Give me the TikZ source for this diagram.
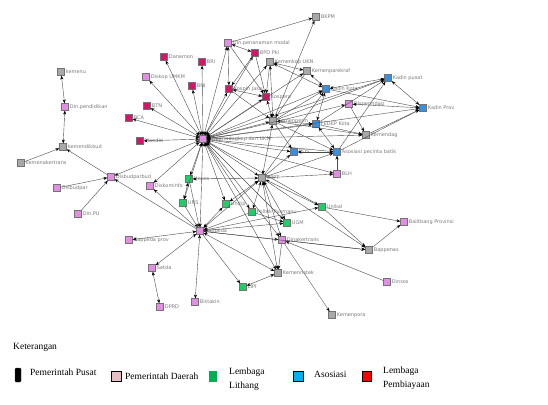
\documentclass[tikz,border=0pt]{standalone}
\usepackage{fontspec}
\setmainfont{Liberation Serif}
\newfontfamily\lblfont{DejaVu Sans}
\usetikzlibrary{arrows.meta}
\definecolor{cpd}{HTML}{E38EE3}
\definecolor{ccr}{HTML}{D6156A}
\definecolor{cgy}{HTML}{A8A8A8}
\definecolor{cbl}{HTML}{3A8FDD}
\definecolor{cgr}{HTML}{22CC66}
\definecolor{cedge}{HTML}{4A4A4A}
\definecolor{clbl}{HTML}{7A7A7A}
\tikzset{
  nd/.style={rectangle,minimum size=7pt,inner sep=0pt,draw=black!55,line width=0.4pt},
  pd/.style={nd,fill=cpd},
  cr/.style={nd,fill=ccr},
  gy/.style={nd,fill=cgy},
  bl/.style={nd,fill=cbl},
  gr/.style={nd,fill=cgr},
  lbl/.style={font=\lblfont\fontsize{5}{6}\selectfont,text=clbl,inner sep=0.5pt,label distance=0.5pt},
  tip/.style={Stealth[length=3.8pt,width=3pt,fill=black,color=black]},
  ea/.style={draw=cedge,line width=0.4pt,-{Stealth[length=3.8pt,width=3pt,color=black]}},
  eb/.style={draw=cedge,line width=0.4pt,{Stealth[length=3.8pt,width=3pt,color=black]}-{Stealth[length=3.8pt,width=3pt,color=black]}},
  legtxt/.style={font=\fontsize{9.5}{11}\selectfont,inner sep=0pt,anchor=west,align=left}
}
\begin{document}
\begin{tikzpicture}[x=1pt,y=-1pt]
\useasboundingbox (0,0) rectangle (548,404);
% ---- nodes ----
\node[gy,label={[lbl]right:BKPM}] (bkpm) at (316,17) {};
\node[pd,label={[lbl]right:Din.penanaman modal}] (dinpen) at (228,43) {};
\node[cr,label={[lbl]right:BPD Pkl}] (bpd) at (255,53) {};
\node[cr,label={[lbl]right:Danamon}] (danamon) at (164,57) {};
\node[cr,label={[lbl]right:BRI}] (bri) at (202,62) {};
\node[pd,label={[lbl]right:Diskop UMKM}] (diskop) at (146,77) {};
\node[gy,label={[lbl]right:Kemenkop UKN}] (kemenkop) at (270,62) {};
\node[gy,label={[lbl]right:Kemenparekraf}] (kemenpar) at (307,71) {};
\node[bl,label={[lbl]right:Kadin pusat}] (kadinpusat) at (388,78) {};
\node[bl,label={[lbl]right:Kadin Kota}] (kadinkota) at (326,89) {};
\node[cr,label={[lbl]right:BNI}] (bni) at (192,86) {};
\node[cr,label={[lbl]right:Kospin Jasa}] (kospin) at (229,89) {};
\node[cr,label={[lbl]right:Kospera}] (kospera) at (266,97) {};
\node[cr,label={[lbl]right:BTN}] (btn) at (147,106) {};
\node[pd,label={[lbl]right:Disperindag}] (disperindag) at (349,104) {};
\node[bl,label={[lbl]right:Kadin Prov}] (kadinprov) at (423,108) {};
\node[cr,label={[lbl]right:BCA}] (bca) at (129,118) {};
\node[gy,label={[lbl]right:Kemenperin}] (kemenperin) at (273,121) {};
\node[bl,label={[lbl]right:FEDEP Kota}] (fedep) at (316,124) {};
\node[gy,label={[lbl]right:Kemendag}] (kemendag) at (366,135) {};
\node[cr,label={[lbl]right:Mandiri}] (mandiri) at (140,141) {};
\node[pd,label={[lbl]right:Disperindagkop dan UKM}] (dk) at (203,139) {};
\node[bl,label={[lbl]right:BDS}] (bds) at (294,152) {};
\node[bl,label={[lbl]right:Asosiasi pecinta batik}] (asosiasi) at (337,152) {};
\node[gy,label={[lbl]right:kemenu}] (kemenu) at (61,72) {};
\node[pd,label={[lbl]right:Din.pendidikan}] (dinpend) at (65,107) {};
\node[gy,label={[lbl]right:kemendikbud}] (kemendik) at (63,147) {};
\node[gy,label={[lbl]right:kemenakertrans}] (kemenak) at (21,163) {};
\node[pd,label={[lbl]right:Disbudparbud}] (disbudparbud) at (111,177) {};
\node[pd,label={[lbl]right:Disbudpar}] (disbudpar) at (57,188) {};
\node[pd,label={[lbl]right:Din.PU}] (dinpu) at (78,214) {};
\node[pd,label={[lbl]right:Diskominfo}] (diskominfo) at (150,186) {};
\node[gr,label={[lbl]right:Unnes}] (unnes) at (189,179) {};
\node[gr,label={[lbl]right:UNS}] (uns) at (183,203) {};
\node[gy,label={[lbl]right:BPPT}] (bppt) at (262,178) {};
\node[pd,label={[lbl]right:BLH}] (blh) at (337,174) {};
\node[gr,label={[lbl]right:Undip}] (undip) at (226,204) {};
\node[gr,label={[lbl]right:Poltek Pusmanu}] (poltek) at (252,212) {};
\node[gr,label={[lbl]right:Unikal}] (unikal) at (322,207) {};
\node[gr,label={[lbl]right:UGM}] (ugm) at (287,223) {};
\node[pd,label={[lbl]right:Bappeda}] (bappeda) at (200,231) {};
\node[pd,label={[lbl]right:Dinakertrans}] (dinaker) at (282,240) {};
\node[pd,label={[lbl]right:Balitbang Provinsi}] (balitbang) at (404,222) {};
\node[pd,label={[lbl]right:Bappeda prov}] (bappedaprov) at (129,240) {};
\node[gy,label={[lbl]right:Bappenas}] (bappenas) at (369,250) {};
\node[pd,label={[lbl]right:Setda}] (setda) at (152,268) {};
\node[gy,label={[lbl]right:Kemenristek}] (kemenristek) at (278,273) {};
\node[gr,label={[lbl]right:LIPI}] (lipi) at (243,287) {};
\node[pd,label={[lbl]right:Dinsos}] (dinsos) at (387,282) {};
\node[pd,label={[lbl]right:DPRD}] (dprd) at (160,307) {};
\node[pd,label={[lbl]right:Bistakin}] (bistakin) at (195,302) {};
\node[gy,label={[lbl]right:Kemenpora}] (kemenpora) at (332,315) {};
% ---- edges ----
\draw[eb] (kemenu) -- (dinpend);
\draw[eb] (dinpend) -- (kemendik);
\draw[ea] (kemenak) -- (kemendik);
\draw[ea] (disbudparbud) -- (kemendik);
\draw[ea] (disbudpar) -- (disbudparbud);
\draw[ea] (dinpu) -- (disbudparbud);
\draw[eb] (dk) -- (disbudparbud);
\draw[ea] (bappeda) -- (disbudparbud);
\draw[ea] (bappeda) -- (diskominfo);
\draw[eb] (dk) -- (diskominfo);
\foreach \t in {danamon,bri,diskop,btn,bca,mandiri,bni,kospin,kospera,dinpen,bpd,kemenkop,kemenpar,kemenperin,kadinkota,kadinpusat,disperindag,kadinprov,kemendag,fedep,bds,asosiasi,blh,bppt,unnes,uns,bappeda,undip,poltek,ugm,unikal,dinaker,kemenristek}
  \draw[eb] (dk) -- (\t);
\draw[ea] (dinpen) -- (bkpm);
\draw[ea] (kemenperin) -- (bkpm);
\draw[eb] (dinpen) -- (bpd);
\draw[eb] (dinpen) -- (kospin);
\draw[ea] (dinpen) -- (kospera);
\draw[ea] (bpd) -- (kospin);
\draw[ea] (bpd) -- (kospera);
\draw[eb] (kemenkop) -- (kemenpar);
\draw[eb] (kemenkop) -- (kemenperin);
\draw[ea] (kemenkop) -- (kospera);
\draw[eb] (kemenkop) -- (kadinkota);
\draw[eb] (kemenpar) -- (kadinkota);
\draw[ea] (kemenpar) -- (kemenperin);
\draw[eb] (kadinkota) -- (kadinpusat);
\draw[ea] (kadinkota) -- (kadinprov);
\draw[eb] (kadinkota) -- (fedep);
\draw[ea] (kemenperin) -- (kadinkota);
\draw[ea] (fedep) -- (kadinpusat);
\draw[ea] (kemenperin) -- (kadinpusat);
\draw[eb] (disperindag) -- (kadinprov);
\draw[ea] (disperindag) -- (kemendag);
\draw[eb] (kadinpusat) -- (kadinprov);
\draw[ea] (asosiasi) -- (kadinprov);
\draw[ea] (asosiasi) -- (kadinpusat);
\draw[ea] (kemendag) -- (kadinprov);
\draw[eb] (kemenperin) -- (fedep);
\draw[ea] (kemenperin) -- (kemendag);
\draw[ea] (fedep) -- (kemendag);
\draw[ea] (kemenperin) -- (bds);
\draw[ea] (kemenperin) -- (asosiasi);
\draw[eb] (fedep) -- (asosiasi);
\draw[eb] (bds) -- (asosiasi);
\draw[eb] (kospera) -- (kemenperin);
\draw[ea] (kospin) -- (kemenperin);
\draw[eb] (kospin) -- (kospera);
\draw[eb] (bppt) -- (kemenperin);
\draw[ea] (bppt) -- (bds);
\draw[ea] (bppt) -- (blh);
\draw[ea] (bppt) -- (asosiasi);
\draw[eb] (bppt) -- (unnes);
\draw[eb] (bppt) -- (undip);
\draw[eb] (bppt) -- (poltek);
\draw[eb] (bppt) -- (ugm);
\draw[eb] (bppt) -- (unikal);
\draw[eb] (bppt) -- (bappeda);
\draw[eb] (bppt) -- (kemenristek);
\draw[eb] (bppt) -- (dinaker);
\draw[ea] (bppt) -- (bappenas);
\draw[ea] (bppt) -- (kadinkota);
\draw[eb] (unnes) -- (uns);
\draw[ea] (uns) -- (bappeda);
\draw[ea] (unnes) -- (bappeda);
\draw[eb] (undip) -- (bappeda);
\draw[ea] (poltek) -- (bappeda);
\draw[ea] (poltek) -- (ugm);
\draw[ea] (bappeda) -- (ugm);
\draw[eb] (unikal) -- (bappeda);
\draw[ea] (unikal) -- (balitbang);
\draw[ea] (unikal) -- (bappenas);
\draw[ea] (bappenas) -- (balitbang);
\draw[eb] (dinaker) -- (bappeda);
\draw[ea] (dinaker) -- (bappenas);
\draw[ea] (dinsos) -- (dinaker);
\draw[ea] (dinaker) -- (kemenristek);
\draw[ea] (dinaker) -- (kemenpora);
\draw[eb] (lipi) -- (kemenristek);
\draw[ea] (bappeda) -- (lipi);
\draw[eb] (bappeda) -- (kemenristek);
\draw[eb] (bappeda) -- (bappedaprov);
\draw[eb] (bappeda) -- (setda);
\draw[eb] (setda) -- (dprd);
\draw[eb] (bappeda) -- (bistakin);
\draw[ea] (bappeda) -- (bappenas);
\draw[ea] (blh) -- (asosiasi);
% ---- legend ----
\node[legtxt] (ket) at (13,347) {Keterangan};
\node[rectangle,minimum width=6pt,minimum height=14pt,inner sep=0pt,fill=black,draw=black!70,rounded corners=0.8pt] (lg1) at (18,375) {};
\node[legtxt] (lt1) at (30,372) {Pemerintah Pusat};
\node[rectangle,minimum size=10pt,inner sep=0pt,fill={rgb,255:red,232;green,190;blue,198},draw=black,line width=0.5pt] (lg2) at (116,376) {};
\node[legtxt] (lt2) at (125,376) {Pemerintah Daerah};
\node[rectangle,minimum width=8pt,minimum height=11pt,inner sep=0pt,fill={rgb,255:red,0;green,176;blue,80}] (lg3) at (213,376) {};
\node[legtxt] (lt3) at (229,372) {Lembaga};
\node[legtxt] (lt3b) at (229,386) {Lithang};
\node[rectangle,minimum width=10pt,minimum height=10pt,inner sep=0pt,fill={rgb,255:red,0;green,176;blue,240},draw=black,line width=0.5pt] (lg4) at (298,376) {};
\node[legtxt] (lt4) at (314,374) {Asosiasi};
\node[rectangle,minimum width=9pt,minimum height=10pt,inner sep=0pt,fill=red,draw=black,line width=0.5pt] (lg5) at (367,376) {};
\node[legtxt] (lt5) at (383,371) {Lembaga};
\node[legtxt] (lt5b) at (383,385) {Pembiayaan};
\end{tikzpicture}
\end{document}
